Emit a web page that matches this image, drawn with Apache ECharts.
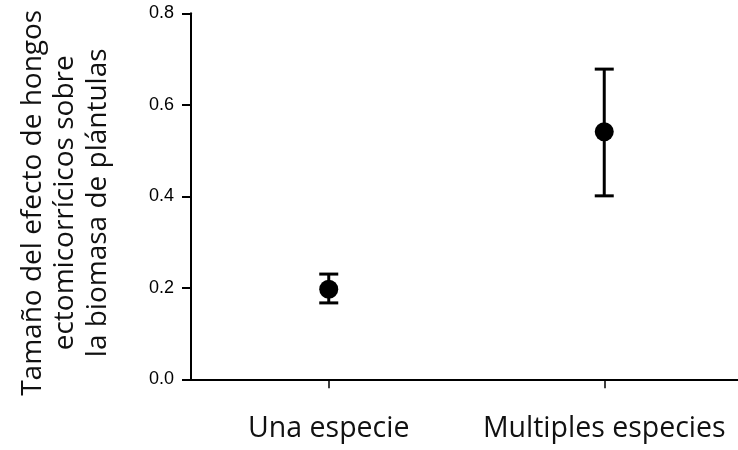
<!DOCTYPE html>
<html>
<head>
<meta charset="utf-8">
<script src="https://cdn.jsdelivr.net/npm/echarts@6/dist/echarts.min.js"></script>
<style>html,body{margin:0;padding:0;background:#fff;}#c{width:738px;height:450px;}</style>
</head>
<body>
<div id="c"></div>
<script>
const categories = ['Una especie', 'Multiples especies'];
const means = [0.197, 0.541];
const lower = [0.167, 0.401];
const upper = [0.230, 0.678];
const yTicks = [0, 0.2, 0.4, 0.6, 0.8];
const yTitle = 'Tamaño del efecto de hongos\nectomicorrícicos sobre\nla biomasa de plántulas';

const chart = echarts.init(document.getElementById('c'), null, {renderer: 'canvas'});

chart.setOption({
  backgroundColor: '#fff',
  animation: false,
  grid: {left: 191, right: -4, top: 13.3, bottom: 70.7, containLabel: false, outerBoundsMode: 'none'},
  xAxis: {
    type: 'category',
    data: categories,
    boundaryGap: true,
    axisLine: {show: true, lineStyle: {color: '#000', width: 2}},
    axisTick: {show: true, alignWithLabel: true, length: 9, lineStyle: {color: '#000', width: 1.5}},
    axisLabel: {margin: 35, fontFamily: 'Open Sans', fontSize: 28.5, color: '#111', interval: 0},
    splitLine: {show: false}
  },
  yAxis: {
    type: 'value',
    min: yTicks[0], max: yTicks[yTicks.length - 1], interval: 0.2,
    name: yTitle,
    nameLocation: 'middle',
    nameRotate: 90,
    nameGap: 77,
    nameTextStyle: {fontFamily: 'Open Sans', fontSize: 28, lineHeight: 32.5, color: '#111', align: 'center', padding: [0, 13, 0, 0]},
    axisLine: {show: true, lineStyle: {color: '#000', width: 2}},
    axisTick: {show: true, length: 9, lineStyle: {color: '#000', width: 2}},
    axisLabel: {
      margin: 17,
      color: '#000',
      fontFamily: 'Liberation Sans',
      fontSize: 18,
      formatter: function (v) { return v.toFixed(1); }
    },
    splitLine: {show: false}
  },
  series: [
    {
      type: 'custom',
      name: 'error',
      renderItem: function (params, api) {
        const x = api.value(0);
        const lo = api.coord([x, api.value(1)]);
        const hi = api.coord([x, api.value(2)]);
        const half = 9.5;
        const style = {stroke: '#000', lineWidth: 3, fill: null};
        return {
          type: 'group',
          children: [
            {type: 'line', shape: {x1: lo[0], y1: lo[1], x2: hi[0], y2: hi[1]}, style: style},
            {type: 'line', shape: {x1: lo[0] - half, y1: lo[1], x2: lo[0] + half, y2: lo[1]}, style: style},
            {type: 'line', shape: {x1: hi[0] - half, y1: hi[1], x2: hi[0] + half, y2: hi[1]}, style: style}
          ]
        };
      },
      data: categories.map(function (c, i) { return [i, lower[i], upper[i]]; }),
      z: 2
    },
    {
      type: 'scatter',
      name: 'mean',
      symbol: 'circle',
      symbolSize: 19,
      itemStyle: {color: '#000', opacity: 1},
      data: categories.map(function (c, i) { return [i, means[i]]; }),
      z: 3
    }
  ]
});
</script>
</body>
</html>
